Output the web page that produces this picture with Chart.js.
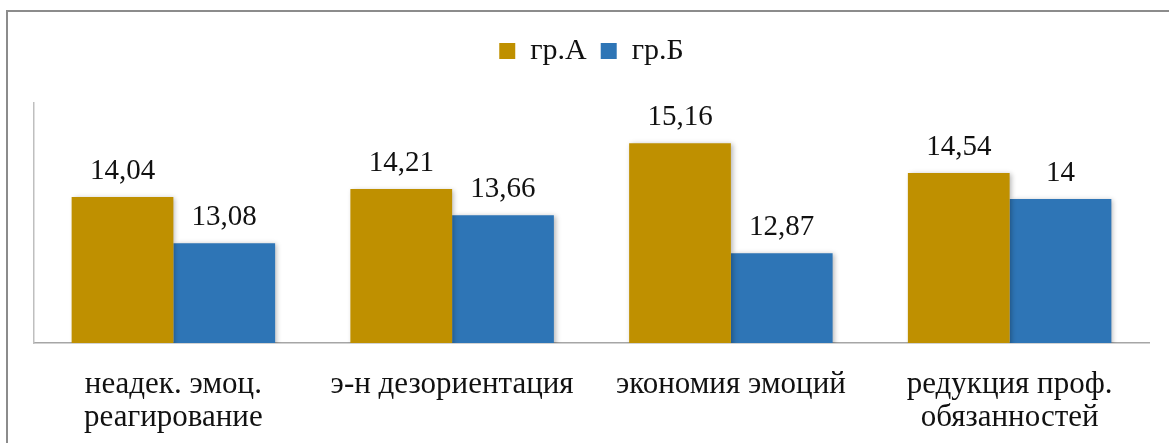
<!DOCTYPE html>
<html>
<head>
<meta charset="utf-8">
<script src="https://cdn.jsdelivr.net/npm/chart.js@4.4.1/dist/chart.umd.min.js"></script>
<style>
  html, body { margin: 0; padding: 0; background: #ffffff; }
  #wrap { width: 1169px; height: 443px; position: relative; }
</style>
</head>
<body>
<div id="wrap"><canvas id="chart" width="1169" height="443"></canvas></div>
<script>
// Burnout sub-scale means for the two groups
const categories = [
  ['неадек. эмоц.', 'реагирование'],
  'э-н дезориентация',
  'экономия эмоций',
  ['редукция проф.', 'обязанностей']
];
const seriesNames = ['гр.А', 'гр.Б'];
const groupA = [14.04, 14.21, 15.16, 14.54];
const groupB = [13.08, 13.66, 12.87, 14];
const colors = ['#BF9000', '#2E75B6'];
const axisMin = 11;
const axisMax = 16;

const SERIF = '"Liberation Serif", "Times New Roman", serif';
const LEGEND_BLOCK_HEIGHT = 81; // legend band plus the gap above the plot

// Thin frame around the whole figure
const framePlugin = {
  id: 'frame',
  beforeDraw(chart) {
    const ctx = chart.ctx;
    ctx.save();
    ctx.strokeStyle = '#8c8c8c';
    ctx.lineWidth = 2;
    ctx.strokeRect(7, 11, chart.width + 20, chart.height + 20);
    ctx.restore();
  }
};

// Leave extra room between the legend and the plot area
const legendGapPlugin = {
  id: 'legendGap',
  beforeLayout(chart) {
    const legend = chart.legend;
    if (legend && !legend._gapPatched) {
      const fit = legend.fit;
      legend.fit = function () {
        fit.call(this);
        this.height = LEGEND_BLOCK_HEIGHT;
      };
      legend._gapPatched = true;
    }
  }
};

// Soft drop shadow behind the bars
const shadowPlugin = {
  id: 'barShadow',
  beforeDatasetsDraw(chart) {
    const ctx = chart.ctx;
    ctx.save();
    ctx.shadowColor = 'rgba(0,0,0,0.28)';
    ctx.shadowBlur = 5;
    ctx.shadowOffsetX = 2;
    ctx.shadowOffsetY = 1;
  },
  afterDatasetsDraw(chart) {
    chart.ctx.restore();
  }
};

// Value labels above each bar, decimal comma
const valueLabelPlugin = {
  id: 'valueLabels',
  afterDatasetsDraw(chart) {
    const ctx = chart.ctx;
    ctx.save();
    ctx.font = '29px ' + SERIF;
    ctx.fillStyle = '#111111';
    ctx.textAlign = 'center';
    ctx.textBaseline = 'middle';
    chart.data.datasets.forEach((ds, di) => {
      const meta = chart.getDatasetMeta(di);
      meta.data.forEach((bar, i) => {
        const text = String(ds.data[i]).replace('.', ',');
        ctx.fillText(text, bar.x, bar.y - 26);
      });
    });
    ctx.restore();
  }
};

new Chart(document.getElementById('chart'), {
  type: 'bar',
  data: {
    labels: categories,
    datasets: [
      { label: seriesNames[0], data: groupA, backgroundColor: colors[0], borderWidth: 0 },
      { label: seriesNames[1], data: groupB, backgroundColor: colors[1], borderWidth: 0 }
    ]
  },
  options: {
    responsive: false,
    animation: false,
    devicePixelRatio: 1,
    layout: { padding: { top: 22, left: 34, right: 20, bottom: 0 } },
    datasets: {
      bar: { barPercentage: 1.0, categoryPercentage: 0.73 }
    },
    plugins: {
      legend: {
        position: 'top',
        labels: {
          boxWidth: 16,
          boxHeight: 16,
          padding: 14,
          color: '#111111',
          font: { family: SERIF, size: 30 }
        }
      },
      tooltip: { enabled: false }
    },
    scales: {
      x: {
        grid: { display: false, drawTicks: false },
        border: { display: true, color: '#A6A6A6', width: 1.5 },
        ticks: {
          color: '#111111',
          font: { family: SERIF, size: 31, lineHeight: 1.04 },
          padding: 26,
          maxRotation: 0,
          autoSkip: false
        },
        afterFit(scale) { scale.height = 100; }
      },
      y: {
        min: axisMin,
        max: axisMax,
        grid: { display: false, drawTicks: false },
        border: { display: true, color: '#BFBFBF', width: 1.5 },
        ticks: { display: false },
        afterFit(scale) { scale.width = 0; }
      }
    }
  },
  plugins: [framePlugin, legendGapPlugin, shadowPlugin, valueLabelPlugin]
});
</script>
</body>
</html>
